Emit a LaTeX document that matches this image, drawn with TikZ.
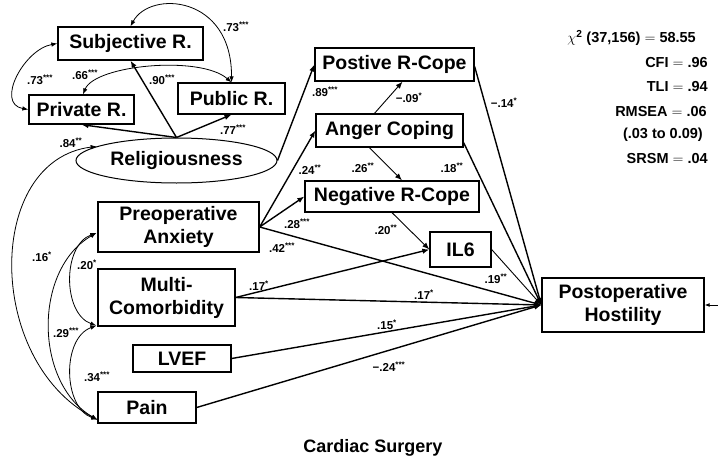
\documentclass[tikz,border=0pt]{standalone}
\usepackage{fontspec}
\setmainfont{Liberation Sans}
\usetikzlibrary{shapes.geometric,arrows.meta,calc}
\newcommand\slab[2]{#1\textsuperscript{#2}}
\newcommand\boxfnt{\fontsize{19.5}{23}\selectfont\bfseries}
\begin{document}
\begin{tikzpicture}[x=1pt,y=1pt,
  box/.style={draw, line width=1.3pt, inner sep=0pt, align=center, font=\boxfnt},
  ar/.style={-{Latex[length=7pt,width=5.5pt]}, line width=1.4pt},
  arthin/.style={-{Latex[length=7pt,width=5.5pt]}, line width=0.9pt},
  dbl/.style={{Latex[length=6pt,width=4.5pt]}-{Latex[length=6pt,width=4.5pt]}, line width=0.8pt},
  lbl/.style={font=\fontsize{11.5}{13}\selectfont\bfseries, inner sep=0pt},
  stat/.style={font=\fontsize{14.5}{16}\selectfont\bfseries, anchor=east, inner sep=0pt}]
\useasboundingbox (0,0) rectangle (718,-463);

% nodes
\node[box, minimum width=145pt, minimum height=33pt] (subj) at (130.5,-43.5) {Subjective R.};
\node[box, minimum width=105pt, minimum height=29pt] (priv) at (81.5,-109.5) {Private R.};
\node[box, minimum width=107pt, minimum height=31pt] (pub) at (231.5,-98.5) {Public R.};
\node[draw, ellipse, line width=1pt, inner sep=0pt, minimum width=201pt, minimum height=45pt, font=\boxfnt] (relig) at (176.5,-160.5) {Religiousness};
\node[box, minimum width=159pt, minimum height=33pt] (posr) at (394.5,-64.5) {Postive R-Cope};
\node[box, minimum width=147pt, minimum height=33pt] (anger) at (389.5,-130.5) {Anger Coping};
\node[box, minimum width=174pt, minimum height=31pt] (negr) at (392,-196.5) {Negative R-Cope};
\node[box, minimum width=61pt, minimum height=35pt] (il6) at (460.5,-249.5) {IL6};
\node[box, minimum width=162pt, minimum height=54pt] (post) at (623,-305) {Postoperative\\Hostility};
\node[box, minimum width=161pt, minimum height=50pt] (preop) at (178.5,-227) {Preoperative\\Anxiety};
\node[box, minimum width=137pt, minimum height=57pt] (multi) at (166.5,-297.5) {Multi-\\Comorbidity};
\node[box, minimum width=98pt, minimum height=27pt] (lvef) at (182,-358.5) {LVEF};
\node[box, minimum width=98pt, minimum height=31pt] (pain) at (147,-407.5) {Pain};
\coordinate (err) at (718,-305);

% religiousness paths
\draw[ar] (relig.north) -- (subj.south);
\draw[ar] (relig.north) -- (priv.south);
\draw[ar] (relig.north) -- (pub.south);
\draw[ar] (relig.east) -- (posr.west);

% preop paths
\draw[ar] (preop.east) -- (anger.west);
\draw[ar] (preop.east) -- (negr.west);
\draw[ar] (preop.east) -- (post.west);

% coping paths
\draw[arthin] ($(anger.north)+(-15,0)$) -- ($(posr.south)+(8,0)$);
\draw[arthin] ($(anger.south)+(-20,0)$) -- ($(negr.north)+(10,0)$);
\draw[ar] ($(anger.south east)+(0,5)$) -- (post.west);
\draw[ar] ($(posr.east)+(0,-2)$) -- (post.west);
\draw[arthin] (negr.south) -- (il6.west);
\draw[arthin] (il6.east) -- (post.west);

% other predictors
\draw[ar] (multi.east) -- (il6.west);
\draw[ar] (multi.east) -- (post.west);
\draw[ar] (lvef.east) -- (post.west);
\draw[ar] (pain.east) -- (post.west);
\draw[-{Latex[length=5pt,width=4pt]}, line width=0.9pt] (err) -- (post.east);

% correlations
\draw[dbl] (subj.west) to[out=190,in=170,looseness=1.2] (priv.west);
\draw[dbl] (subj.north) .. controls (150,10) and (232,5) .. (pub.north);
\draw[dbl] ($(priv.north)+(1.5,0)$) .. controls (95,-65) and (200,-55) .. (pub.north);
\draw[dbl] (relig.170) .. controls (-15,-160) and (-15,-360) .. ($(pain.south west)+(0,4)$);
\draw[dbl] ($(preop.west)+(-1,-6)$) to[out=200,in=160] ($(multi.south west)+(-1,1)$);
\draw[dbl] ($(multi.south west)+(-1,1)$) to[out=200,in=160] ($(pain.south west)+(0,4)$);
\draw[dbl] ($(preop.west)+(-1,-6)$) to[out=210,in=150] ($(pain.south west)+(0,4)$);

% path labels
\node[lbl] (l1) at (40,-80) {\slab{.73}{***}};
\node[lbl] (l2) at (85,-75) {\slab{.66}{***}};
\node[lbl] (l3) at (162,-80) {\slab{.90}{***}};
\node[lbl] (l4) at (236,-27) {\slab{.73}{***}};
\node[lbl] (l5) at (233,-130) {\slab{.77}{***}};
\node[lbl] (l6) at (71,-143) {\slab{.84}{**}};
\node[lbl] (l7) at (325,-92) {\slab{.89}{***}};
\node[lbl] (l8) at (409,-98) {\slab{−.09}{*}};
\node[lbl] (l9) at (504,-103) {\slab{−.14}{*}};
\node[lbl] (l10) at (310,-170) {\slab{.24}{**}};
\node[lbl] (l11) at (363,-168) {\slab{.26}{**}};
\node[lbl] (l12) at (452,-168) {\slab{.18}{**}};
\node[lbl] (l13) at (297,-224) {\slab{.28}{***}};
\node[lbl] (l14) at (282,-248) {\slab{.42}{***}};
\node[lbl] (l15) at (386,-230) {\slab{.20}{**}};
\node[lbl] (l16) at (496,-279) {\slab{.19}{**}};
\node[lbl] (l17) at (259,-286) {\slab{.17}{*}};
\node[lbl] (l18) at (424,-295) {\slab{.17}{*}};
\node[lbl] (l19) at (387,-325) {\slab{.15}{*}};
\node[lbl] (l20) at (389,-367) {\slab{−.24}{***}};
\node[lbl] (l21) at (42,-257) {\slab{.16}{*}};
\node[lbl] (l22) at (87,-265) {\slab{.20}{*}};
\node[lbl] (l23) at (66,-333) {\slab{.29}{***}};
\node[lbl] (l24) at (97,-377) {\slab{.34}{***}};

% fit statistics
\node[stat] (s1) at (696,-38) {$\chi^{\mathbf{2}}$ (37,156) $=$ 58.55};
\node[stat] (s2) at (708,-63) {CFI $=$ .96};
\node[stat] (s3) at (708,-87) {TLI $=$ .94};
\node[stat] (s4) at (707,-111.5) {RMSEA $=$ .06};
\node[stat] (s5) at (703,-135) {(.03 to 0.09)};
\node[stat] (s6) at (708,-159) {SRSM $=$ .04};

% title
\node[font=\fontsize{18}{20}\selectfont\bfseries, inner sep=0pt] (title) at (373,-448) {Cardiac Surgery};
\end{tikzpicture}
\end{document}
